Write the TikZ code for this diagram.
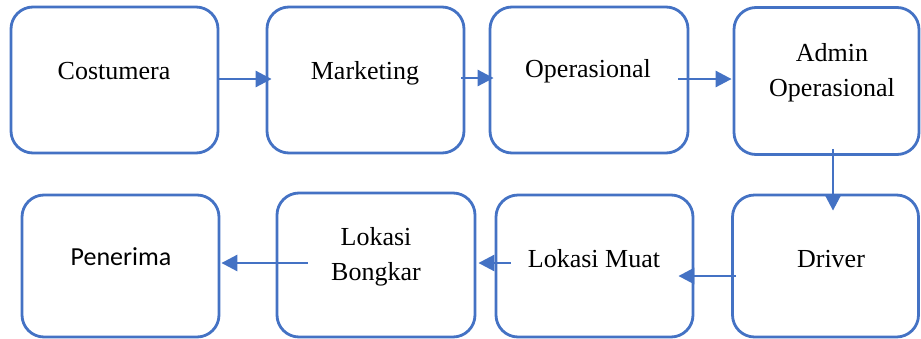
\documentclass[tikz,border=0pt]{standalone}
\usepackage{fontspec}
\setmainfont{Liberation Serif}
\newfontfamily\calib{Carlito}
\usetikzlibrary{arrows.meta,calc}
\definecolor{wblue}{HTML}{4472C4}
\begin{document}
\begin{tikzpicture}[x=1pt,y=-1pt,
  box/.style={draw=wblue,line width=2.8pt,rounded corners=22pt,inner sep=0pt,fill=white},
  lbl/.style={font=\fontsize{26}{35}\selectfont,anchor=base,inner sep=0pt,align=center},
  arr/.style={draw=wblue,line width=2.8pt,-{Triangle[length=16pt,width=16pt]}}]
\useasboundingbox (0,0) rectangle (921,338);
% top row
\node[box,minimum width=207pt,minimum height=146pt] (b1) at (114.5,80) {};
\node[box,minimum width=197pt,minimum height=146pt] (b2) at (365.5,80) {};
\node[box,minimum width=198pt,minimum height=146pt] (b3) at (589,80) {};
\node[box,minimum width=185pt,minimum height=147pt] (b4) at (826.5,81) {};
% bottom row
\node[box,minimum width=197pt,minimum height=142pt] (b5) at (120.5,266) {};
\node[box,minimum width=198pt,minimum height=144pt] (b6) at (376,265) {};
\node[box,minimum width=197pt,minimum height=142pt] (b7) at (594.5,266) {};
\node[box,minimum width=186pt,minimum height=142pt] (b8) at (825.5,266) {};
% texts
\node[lbl] (t1) at (114,79) {Costumera};
\node[lbl] (t2) at (365,79) {Marketing};
\node[lbl] (t3) at (588,77) {Operasional};
\node[lbl] (t4) at (832,96) {Admin\\Operasional};
\node[lbl,font=\calib\fontsize{26}{35}\selectfont] (t5) at (121,265) {Penerima};
\node[lbl] (t6) at (376,280) {Lokasi\\Bongkar};
\node[lbl] (t7) at (594,267) {Lokasi Muat};
\node[lbl] (t8) at (831,267) {Driver};
% connectors
\draw[arr] ($(b1.east)+(0,-1)$) -- ($(b2.west)+(6,-1)$);
\draw[arr] ($(b2.east)+(-4,-2)$) -- ($(b3.west)+(5,-2)$);
\draw[arr] ($(b3.east)+(-11,-1)$) -- ($(b4.west)+(-1,-2)$);
\draw[arr] ($(b4.south)+(6.5,-7)$) -- ($(b8.north)+(7.5,17)$);
\draw[arr] ($(b8.west)+(5,10)$) -- ($(b7.east)+(-16,10)$);
\draw[arr] ($(b7.west)+(16,-3)$) -- ($(b6.east)+(2,-2)$);
\draw[arr] ($(b6.west)+(32,-2)$) -- ($(b5.east)+(1,-3)$);
\end{tikzpicture}
\end{document}
